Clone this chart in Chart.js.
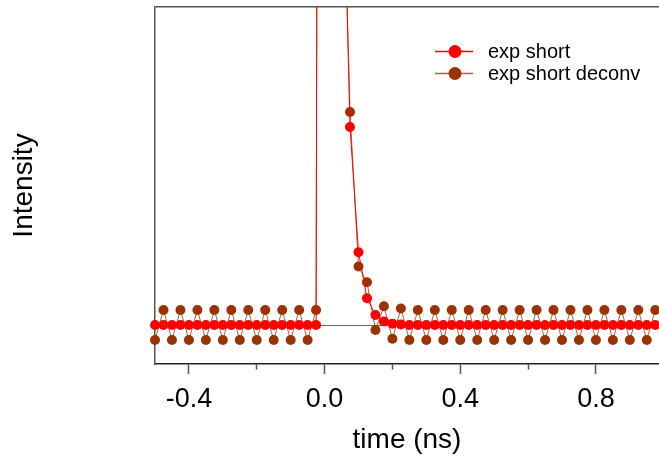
<!DOCTYPE html>
<html>
<head>
<meta charset="utf-8">
<script src="https://cdn.jsdelivr.net/npm/chart.js@4.4.1/dist/chart.umd.min.js"></script>
<style>
html, body { margin: 0; padding: 0; background: #fff; }
</style>
</head>
<body>
<canvas id="decay-chart" width="659" height="457"></canvas>
<script>
// sample times (ns), one every 25 ps
var times = [
  -0.5, -0.475, -0.45, -0.425, -0.4, -0.375, -0.35, -0.325, -0.3, -0.275,
  -0.25, -0.225, -0.2, -0.175, -0.15, -0.125, -0.1, -0.075, -0.05, -0.025,
  0, 0.025, 0.05, 0.075, 0.1, 0.125, 0.15, 0.175, 0.2, 0.225,
  0.25, 0.275, 0.3, 0.325, 0.35, 0.375, 0.4, 0.425, 0.45, 0.475,
  0.5, 0.525, 0.55, 0.575, 0.6, 0.625, 0.65, 0.675, 0.7, 0.725,
  0.75, 0.775, 0.8, 0.825, 0.85, 0.875, 0.9, 0.925, 0.95, 0.975
];

var expShort = [
  0, 0, 0, 0, 0, 0, 0, 0, 0, 0,
  0, 0, 0, 0, 0, 0, 0, 0, 0, 0,
  265, 97.5, 35.9, 13.2, 4.85, 1.78, 0.67, 0.24, 0.09, 0.03,
  0, 0, 0, 0, 0, 0, 0, 0, 0, 0,
  0, 0, 0, 0, 0, 0, 0, 0, 0, 0,
  0, 0, 0, 0, 0, 0, 0, 0, 0, 0
];

var expShortDeconv = [
  -1, 1, -1, 1, -1, 1, -1, 1, -1, 1,
  -1, 1, -1, 1, -1, 1, -1, 1, -1, 1,
  264, 98.5, 34.9, 14.2, 3.9, 2.85, -0.33, 1.25, -0.92, 1.1,
  -1, 1, -1, 1, -1, 1, -1, 1, -1, 1,
  -1, 1, -1, 1, -1, 1, -1, 1, -1, 1,
  -1, 1, -1, 1, -1, 1, -1, 1, -1, 1
];

var seriesNames = ["exp short", "exp short deconv"];
var majorTicks = [-0.4, 0.0, 0.4, 0.8];
var minorTicks = [-0.2, 0.2, 0.6];

var font = "Arial, 'Liberation Sans', sans-serif";

function points(ys) {
  return times.map(function (t, i) { return {x: t, y: ys[i]}; });
}

// legend sits inside the plot, top right, line + marker + label
var insideLegend = {
  id: 'insideLegend',
  afterDatasetsDraw: function (chart) {
    var c = chart.ctx;
    chart.data.datasets.forEach(function (ds, i) {
      var y = 51.5 + i * 22;
      c.save();
      c.strokeStyle = ds.borderColor;
      c.lineWidth = 1.5;
      c.beginPath();
      c.moveTo(435, y);
      c.lineTo(473, y);
      c.stroke();
      c.fillStyle = ds.pointBackgroundColor;
      c.beginPath();
      c.arc(455, y, 6.5, 0, Math.PI * 2);
      c.fill();
      c.fillStyle = '#000';
      c.font = '20px ' + font;
      c.textBaseline = 'middle';
      c.fillText(ds.label, 488, y + 1);
      c.restore();
    });
  }
};

var noClipSides = {left: false, top: 0, right: false, bottom: 0};

var ctx = document.getElementById("decay-chart");

var decayChart = new Chart(ctx, {
  type: 'line',
  data: {
    datasets: [
      {
        label: seriesNames[0],
        data: points(expShort),
        borderColor: '#ff0000',
        borderWidth: 1,
        pointBackgroundColor: '#ff0000',
        pointBorderWidth: 0,
        pointRadius: 5,
        tension: 0,
        clip: noClipSides
      },
      {
        label: seriesNames[1],
        data: points(expShortDeconv),
        borderColor: '#b0603a',
        borderWidth: 1,
        pointBackgroundColor: '#993300',
        pointBorderWidth: 0,
        pointRadius: 5,
        tension: 0,
        clip: noClipSides
      }
    ]
  },
  options: {
    responsive: false,
    animation: false,
    layout: {autoPadding: false, padding: {top: 7, right: 0, bottom: 0, left: 0}},
    plugins: {legend: {display: false}, tooltip: {enabled: false}},
    scales: {
      x: {
        type: 'linear',
        min: -0.5,
        max: 0.986,
        afterFit: function (s) { s.height = 93; },
        afterBuildTicks: function (s) {
          s.ticks = majorTicks.concat(minorTicks)
            .sort(function (a, b) { return a - b; })
            .map(function (v) { return {value: v}; });
        },
        ticks: {
          autoSkip: false,
          maxRotation: 0,
          padding: 9,
          color: '#000',
          font: {family: font, size: 27},
          callback: function (v) {
            return majorTicks.indexOf(v) >= 0 ? v.toFixed(1) : '';
          }
        },
        grid: {
          drawOnChartArea: false,
          tickLength: 10,
          tickColor: '#555',
          tickWidth: 1.5,
          tickBorderDash: function (c) {
            return majorTicks.indexOf(c.tick.value) >= 0 ? [] : [5, 20];
          }
        },
        border: {color: '#222', width: 1.5},
        title: {
          display: true,
          text: 'time (ns)',
          color: '#000',
          font: {family: font, size: 28},
          padding: {top: 0, bottom: 0}
        }
      },
      y: {
        type: 'linear',
        min: -2.6,
        max: 21.2,
        afterFit: function (s) { s.width = 155; },
        afterBuildTicks: function (s) {
          s.ticks = [{value: 0}, {value: 21.2}];
        },
        ticks: {display: false},
        grid: {
          drawTicks: false,
          color: function (c) { return c.tick && c.tick.value === 0 ? '#666' : '#555'; },
          lineWidth: function (c) { return c.tick && c.tick.value === 0 ? 1 : 1.5; }
        },
        border: {color: '#555', width: 1.5},
        title: {
          display: true,
          text: 'Intensity',
          color: '#000',
          font: {family: font, size: 28},
          padding: {top: 7, bottom: 0}
        }
      }
    }
  },
  plugins: [insideLegend]
});
</script>
</body>
</html>
